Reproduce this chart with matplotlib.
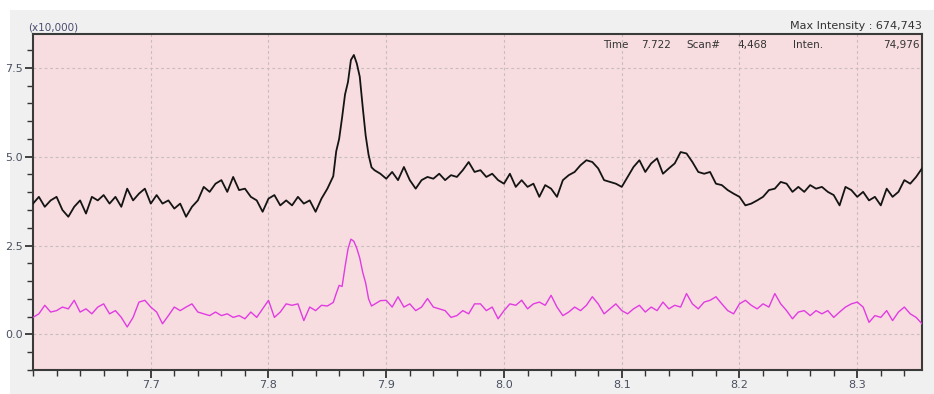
import matplotlib
matplotlib.use("Agg")
import matplotlib.pyplot as plt
from matplotlib.ticker import MultipleLocator, FixedLocator, FixedFormatter
from matplotlib.patches import Rectangle

# Retention time (min)
time = [
    7.600, 7.605, 7.610, 7.615, 7.620, 7.625, 7.630, 7.635, 7.640, 7.645,
    7.650, 7.655, 7.660, 7.665, 7.670, 7.675, 7.680, 7.685, 7.690, 7.695,
    7.700, 7.705, 7.710, 7.715, 7.720, 7.725, 7.730, 7.735, 7.740, 7.745,
    7.750, 7.755, 7.760, 7.765, 7.770, 7.775, 7.780, 7.785, 7.790, 7.795,
    7.800, 7.805, 7.810, 7.815, 7.820, 7.825, 7.830, 7.835, 7.840, 7.845,
    7.850, 7.855, 7.8575, 7.860, 7.8625, 7.865, 7.8675, 7.870, 7.8725, 7.875,
    7.8775, 7.880, 7.8825, 7.885, 7.8875, 7.890, 7.895,
    7.900, 7.905, 7.910, 7.915, 7.920, 7.925, 7.930, 7.935, 7.940, 7.945,
    7.950, 7.955, 7.960, 7.965, 7.970, 7.975, 7.980, 7.985, 7.990, 7.995,
    8.000, 8.005, 8.010, 8.015, 8.020, 8.025, 8.030, 8.035, 8.040, 8.045,
    8.050, 8.055, 8.060, 8.065, 8.070, 8.075, 8.080, 8.085, 8.090, 8.095,
    8.100, 8.105, 8.110, 8.115, 8.120, 8.125, 8.130, 8.135, 8.140, 8.145,
    8.150, 8.155, 8.160, 8.165, 8.170, 8.175, 8.180, 8.185, 8.190, 8.195,
    8.200, 8.205, 8.210, 8.215, 8.220, 8.225, 8.230, 8.235, 8.240, 8.245,
    8.250, 8.255, 8.260, 8.265, 8.270, 8.275, 8.280, 8.285, 8.290, 8.295,
    8.300, 8.305, 8.310, 8.315, 8.320, 8.325, 8.330, 8.335, 8.340, 8.345,
    8.350, 8.355,
]

# Intensity (x10,000), black trace
intensity_black = [
    3.68, 3.87, 3.59, 3.77, 3.87, 3.50, 3.31, 3.59, 3.77, 3.40,
    3.87, 3.77, 3.92, 3.68, 3.87, 3.59, 4.10, 3.77, 3.96, 4.10,
    3.68, 3.92, 3.68, 3.77, 3.54, 3.68, 3.31, 3.59, 3.77, 4.15,
    4.01, 4.24, 4.34, 4.01, 4.43, 4.06, 4.10, 3.87, 3.77, 3.45,
    3.82, 3.92, 3.63, 3.77, 3.63, 3.87, 3.68, 3.77, 3.45, 3.82,
    4.10, 4.45, 5.15, 5.50, 6.10, 6.75, 7.10, 7.72, 7.86, 7.62,
    7.25, 6.40, 5.60, 5.05, 4.70, 4.62, 4.52,
    4.38, 4.57, 4.34, 4.71, 4.34, 4.10, 4.34, 4.43, 4.38, 4.52,
    4.34, 4.48, 4.43, 4.62, 4.85, 4.57, 4.62, 4.43, 4.52, 4.34,
    4.24, 4.52, 4.15, 4.34, 4.15, 4.24, 3.87, 4.20, 4.10, 3.87,
    4.34, 4.48, 4.57, 4.76, 4.90, 4.85, 4.67, 4.34, 4.29, 4.24,
    4.15, 4.43, 4.71, 4.90, 4.57, 4.81, 4.95, 4.52, 4.67, 4.81,
    5.13, 5.09, 4.85, 4.57, 4.52, 4.57, 4.24, 4.20, 4.06, 3.96,
    3.87, 3.63, 3.68, 3.77, 3.87, 4.06, 4.10, 4.29, 4.24, 4.01,
    4.15, 4.01, 4.20, 4.10, 4.15, 4.01, 3.92, 3.63, 4.15, 4.06,
    3.87, 4.01, 3.77, 3.87, 3.63, 4.10, 3.87, 4.01, 4.34, 4.24,
    4.43, 4.67,
]

# Intensity (x10,000), magenta trace
intensity_magenta = [
    0.48, 0.58, 0.82, 0.63, 0.67, 0.77, 0.72, 0.96, 0.63, 0.72,
    0.58, 0.77, 0.86, 0.58, 0.67, 0.48, 0.21, 0.48, 0.91, 0.96,
    0.77, 0.63, 0.30, 0.53, 0.77, 0.67, 0.77, 0.86, 0.63, 0.58,
    0.53, 0.63, 0.53, 0.58, 0.48, 0.53, 0.44, 0.63, 0.48, 0.72,
    0.96, 0.48, 0.63, 0.86, 0.82, 0.86, 0.39, 0.77, 0.67, 0.82,
    0.80, 0.90, 1.15, 1.38, 1.35, 1.90, 2.40, 2.68, 2.62, 2.42,
    2.15, 1.75, 1.45, 1.00, 0.80, 0.85, 0.95,
    0.96, 0.77, 1.06, 0.77, 0.86, 0.67, 0.77, 1.01, 0.77, 0.72,
    0.67, 0.48, 0.53, 0.67, 0.58, 0.86, 0.86, 0.67, 0.77, 0.44,
    0.67, 0.86, 0.82, 0.96, 0.72, 0.86, 0.91, 0.82, 1.10, 0.77,
    0.53, 0.63, 0.77, 0.67, 0.82, 1.06, 0.86, 0.58, 0.72, 0.86,
    0.67, 0.58, 0.72, 0.82, 0.63, 0.77, 0.67, 0.91, 0.72, 0.82,
    0.77, 1.15, 0.86, 0.72, 0.91, 0.96, 1.06, 0.86, 0.67, 0.58,
    0.86, 0.96, 0.82, 0.72, 0.86, 0.77, 1.15, 0.86, 0.67, 0.44,
    0.63, 0.67, 0.53, 0.67, 0.58, 0.67, 0.48, 0.63, 0.77, 0.86,
    0.91, 0.77, 0.34, 0.53, 0.48, 0.67, 0.39, 0.63, 0.77, 0.58,
    0.48, 0.30,
]

x_ticks = [7.7, 7.8, 7.9, 8.0, 8.1, 8.2, 8.3]
x_tick_labels = ["7.7", "7.8", "7.9", "8.0", "8.1", "8.2", "8.3"]
y_ticks = [0.0, 2.5, 5.0, 7.5]
y_tick_labels = ["0.0", "2.5", "5.0", "7.5"]

W, H = 934, 394
fig = plt.figure(figsize=(W / 100, H / 100), dpi=100)
fig.patch.set_facecolor("white")
fig.patches.append(Rectangle((10 / W, 0), 1 - 10 / W, 1 - 10 / H,
                             transform=fig.transFigure, facecolor="#f0f0f0",
                             edgecolor="none", zorder=-10))

ax = fig.add_axes([33 / W, 1 - 370 / H, (922 - 33) / W, (370 - 34) / H])
ax.set_zorder(5)
ax.set_facecolor("#f7dde0")
ax.set_xlim(7.6, 8.355)
ax.set_ylim(-1.0, 8.45)

for v in x_ticks:
    ax.axvline(v, color="#c9bcbf", lw=0.8, ls=(0, (2.5, 2.5)), zorder=1)
for v in y_ticks:
    ax.axhline(v, color="#c9bcbf", lw=0.8, ls=(0, (2.5, 2.5)), zorder=1)

ax.plot(time, intensity_black, color="#141414", lw=1.3, zorder=3)
ax.plot(time, intensity_magenta, color="#e23be2", lw=1.0, zorder=3)

ax.xaxis.set_major_locator(FixedLocator(x_ticks))
ax.xaxis.set_major_formatter(FixedFormatter(x_tick_labels))
ax.xaxis.set_minor_locator(MultipleLocator(0.02))
ax.yaxis.set_major_locator(FixedLocator(y_ticks))
ax.yaxis.set_major_formatter(FixedFormatter(y_tick_labels))
ax.yaxis.set_minor_locator(MultipleLocator(0.5))

font = "DejaVu Sans"
ax.tick_params(axis="both", which="major", direction="out", length=6, width=1.3,
               color="#333333", labelsize=8, labelcolor="#4a5060")
ax.tick_params(axis="both", which="minor", direction="out", length=4, width=1.0,
               color="#333333")
ax.tick_params(axis="x", pad=1)
ax.tick_params(axis="y", pad=1)
for lab in ax.get_xticklabels() + ax.get_yticklabels():
    lab.set_fontfamily(font)

for s in ax.spines.values():
    s.set_color("#3a3a3a")
    s.set_linewidth(1.5)

fig.text(28 / W, 1 - 28 / H, "(x10,000)", fontsize=7.5, color="#4a4a70",
         family=font, ha="left", va="center")
fig.text(922 / W, 1 - 26 / H, "Max Intensity : 674,743", fontsize=8,
         color="#333333", family=font, ha="right", va="center")

yt = 1 - 45 / H
for xp, s, ha in [(603, "Time", "left"), (641, "7.722", "left"),
                  (686, "Scan#", "left"), (737, "4,468", "left"),
                  (793, "Inten.", "left"), (920, "74,976", "right")]:
    fig.text(xp / W, yt, s, fontsize=7.5, color="#333333", family=font,
             ha=ha, va="center", zorder=10)

fig.savefig("out.png", dpi=100, facecolor=fig.get_facecolor())
